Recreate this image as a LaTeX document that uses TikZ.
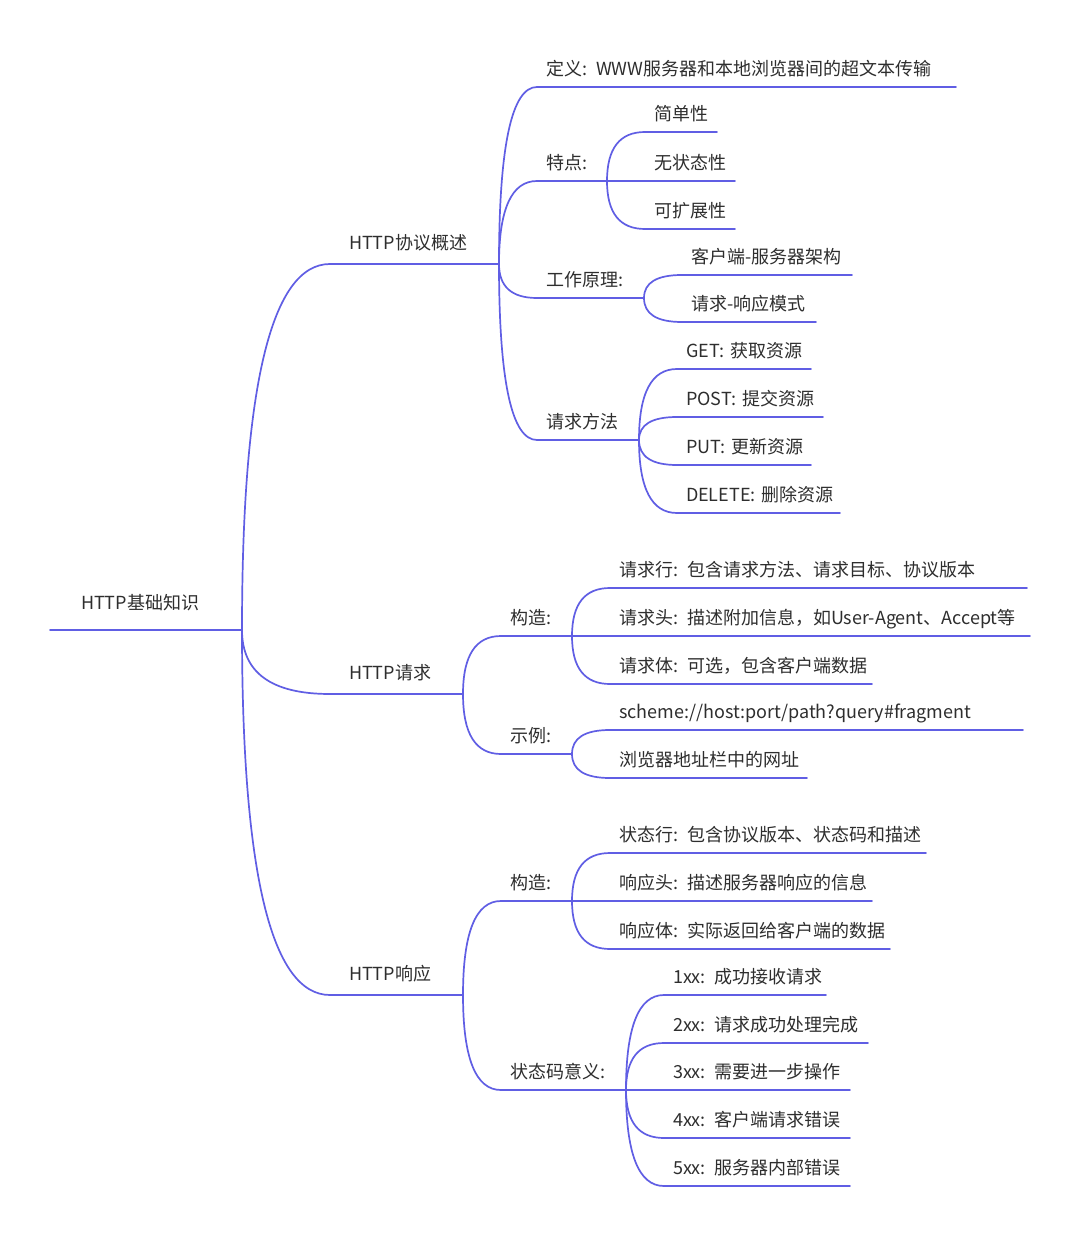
\documentclass[tikz,border=0pt]{standalone}
\usepackage{fontspec}
\setmainfont{Noto Sans CJK SC}
\usetikzlibrary{calc}
\definecolor{mmblue}{RGB}{96,94,228}
\definecolor{mmink}{RGB}{46,46,46}

\tikzset{
  mmline/.style={draw=mmblue, line width=1.7pt, line cap=round},
  topic/.style={anchor=south west, inner ysep=0pt, outer sep=0pt, inner xsep=9pt,
    minimum height=35pt, text=mmink, font=\fontsize{18}{22}\selectfont,
    text height=15.5pt, text depth=3.5pt,
    execute at begin node=\hbox\bgroup, execute at end node=\egroup},
  major/.style={topic, inner xsep=19pt, minimum height=41pt},
  rootic/.style={topic, inner xsep=31pt, minimum height=54pt},
}

% elbow-shaped branch from the end of a parent's underline to the start of a child's
\newcommand\mmlink[2]{%
  \draw[mmline] (#1.south east)
    .. controls ($(#1.south east)!2/3!(#1.south east |- #2.south west)$)
            and ($(#2.south west)!2/3!(#1.south east |- #2.south west)$)
    .. (#2.south west);}

\begin{document}
\begin{tikzpicture}[x=1pt,y=-1pt]
\fill[white] (0,0) rectangle (1080,1238);
\useasboundingbox (0,0) rectangle (1080,1238);

% root
\node[rootic, text width=130pt] (root) at (50,630) {HTTP基础知识};

% first level
\node[major, text width=131pt] (ov)   at (330,264) {HTTP协议概述};
\node[major, text width=95pt]  (req)  at (330,694) {HTTP请求};
\node[major, text width=95pt]  (resp) at (330,995) {HTTP响应};

% overview
\node[topic, text width=401pt] (def)  at (537,87)  {定义: WWW服务器和本地浏览器间的超文本传输};
\node[topic, text width=52pt]  (feat) at (537,181) {特点:};
\node[topic, text width=89pt]  (work) at (537,298) {工作原理:};
\node[topic, text width=84pt]  (meth) at (537,440) {请求方法};

\node[topic, text width=54pt]  (simp)      at (645,132) {简单性};
\node[topic, text width=72pt]  (stateless) at (645,181) {无状态性};
\node[topic, text width=72pt]  (ext)       at (645,229) {可扩展性};

\node[topic, text width=152pt] (cs) at (682,275) {客户端-服务器架构};
\node[topic, text width=116pt] (rr) at (682,322) {请求-响应模式};

\node[topic, text width=116pt] (get)  at (677,369) {GET: 获取资源};
\node[topic, text width=128pt] (post) at (677,417) {POST: 提交资源};
\node[topic, text width=116pt] (put)  at (677,465) {PUT: 更新资源};
\node[topic, text width=145pt] (del)  at (677,513) {DELETE: 删除资源};

% request
\node[topic, text width=53pt] (rcon) at (501,636) {构造:};
\node[topic, text width=53pt] (rex)  at (501,754) {示例:};

\node[topic, text width=399pt] (rline) at (610,588) {请求行: 包含请求方法、请求目标、协议版本};
\node[topic, text width=402pt] (rhead) at (610,636) {请求头: 描述附加信息，如User-Agent、Accept等};
\node[topic, text width=244pt] (rbody) at (610,684) {请求体: 可选，包含客户端数据};

\node[topic, text width=395pt] (url)  at (610,730) {scheme://host:port/path?query\#fragment};
\node[topic, text width=179pt] (addr) at (610,778) {浏览器地址栏中的网址};

% response
\node[topic, text width=53pt]  (scon)  at (501,901)  {构造:};
\node[topic, text width=107pt] (codes) at (501,1090) {状态码意义:};

\node[topic, text width=298pt] (sline) at (610,853) {状态行: 包含协议版本、状态码和描述};
\node[topic, text width=244pt] (shead) at (610,901) {响应头: 描述服务器响应的信息};
\node[topic, text width=262pt] (sbody) at (610,949) {响应体: 实际返回给客户端的数据};

\node[topic, text width=144pt] (c1) at (664,995)  {1xx: 成功接收请求};
\node[topic, text width=186pt] (c2) at (664,1043) {2xx: 请求成功处理完成};
\node[topic, text width=168pt] (c3) at (664,1090) {3xx: 需要进一步操作};
\node[topic, text width=168pt] (c4) at (664,1138) {4xx: 客户端请求错误};
\node[topic, text width=168pt] (c5) at (664,1186) {5xx: 服务器内部错误};

% underlines
\foreach \n in {root,ov,req,resp,def,feat,work,meth,simp,stateless,ext,cs,rr,
                get,post,put,del,rcon,rex,rline,rhead,rbody,url,addr,
                scon,codes,sline,shead,sbody,c1,c2,c3,c4,c5}
  \draw[mmline] (\n.south west) -- (\n.south east);

% branches
\mmlink{root}{ov}\mmlink{root}{req}\mmlink{root}{resp}
\mmlink{ov}{def}\mmlink{ov}{feat}\mmlink{ov}{work}\mmlink{ov}{meth}
\mmlink{feat}{simp}\mmlink{feat}{stateless}\mmlink{feat}{ext}
\mmlink{work}{cs}\mmlink{work}{rr}
\mmlink{meth}{get}\mmlink{meth}{post}\mmlink{meth}{put}\mmlink{meth}{del}
\mmlink{req}{rcon}\mmlink{req}{rex}
\mmlink{rcon}{rline}\mmlink{rcon}{rhead}\mmlink{rcon}{rbody}
\mmlink{rex}{url}\mmlink{rex}{addr}
\mmlink{resp}{scon}\mmlink{resp}{codes}
\mmlink{scon}{sline}\mmlink{scon}{shead}\mmlink{scon}{sbody}
\mmlink{codes}{c1}\mmlink{codes}{c2}\mmlink{codes}{c3}\mmlink{codes}{c4}\mmlink{codes}{c5}
\end{tikzpicture}
\end{document}
